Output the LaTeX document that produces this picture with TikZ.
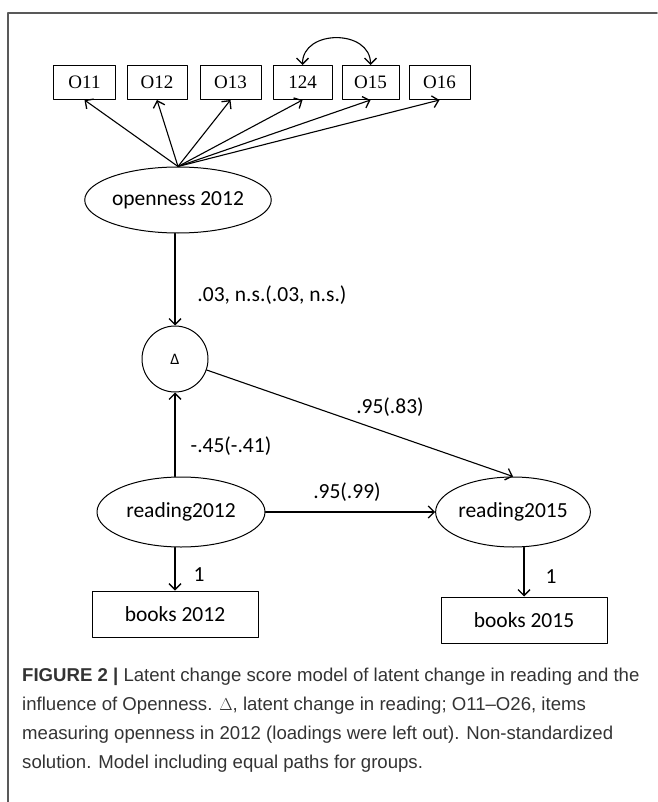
\documentclass[tikz,border=0pt]{standalone}
\usepackage{fontspec}
\setmainfont{Carlito}
\newfontfamily\itemfont{Liberation Serif}
\newfontfamily\capfont{Liberation Sans}
\usetikzlibrary{arrows.meta,shapes.geometric}
\begin{document}
\begin{tikzpicture}[>={Straight Barb[length=6pt,width=12pt,line width=1.3pt]},line join=round,line cap=round,x=1pt,y=-1pt,font=\fontsize{21.5}{24}\selectfont]
\def\W{657}
\def\H{802}
\tikzset{item/.style={draw,line width=1pt,minimum height=34pt,inner sep=0pt,font=\itemfont\fontsize{19}{19}\selectfont},
  latent/.style={draw,ellipse,line width=1pt,inner sep=0pt},
  obs/.style={draw,line width=1pt,minimum width=166pt,minimum height=46pt},
  path/.style={->,line width=1.1pt}}
\useasboundingbox (0,0) rectangle (\W,\H);
\draw[black!65,line width=1.5pt] (\W,13) -- (8,13) -- (8,\H);
\foreach \n/\t/\x/\w in {o11/O11/84.5/62,o12/O12/157/60,o13/O13/230.5/61,i24/124/302.5/59,o15/O15/370.5/57,o16/O16/439.5/61}
  \node[item,minimum width=\w pt] (\n) at (\x,82.5) {\t};
\node[latent,minimum width=168pt,minimum height=66pt] (op) at (178,200) {openness 2012};
\node[draw,circle,line width=1pt,minimum size=66pt,font=\fontsize{16}{16}\selectfont] (dl) at (175,359) {Δ};
\node[latent,minimum width=168pt,minimum height=70pt] (r12) at (181,512) {reading2012};
\node[latent,minimum width=150pt,minimum height=70pt] (r15) at (513,512) {reading2015};
\node[obs] (b12) at (175,614) {books 2012};
\node[obs] (b15) at (524,620) {books 2015};
\foreach \n in {o11,o12,o13,i24,o15,o16}
  \draw[path] (op.north) -- (\n.south);
\draw[path,<->] (i24.north) .. controls +(0,-36) and +(0,-36) .. (o15.north);
\draw[path] (dl |- op.south) -- (dl.north);
\draw[path] (dl |- r12.north) -- (dl.south);
\draw[path] (dl) -- (r15.north);
\draw[path] (r12) -- (r15);
\draw[path] (b12.north |- r12.south) -- (b12.north);
\draw[path] (b15.north |- r15.south) -- (b15.north);
\node (l1) at (272,295) {.03, n.s.(.03, n.s.)};
\node (l2) at (231,446) {-.45(-.41)};
\node (l3) at (390,407) {.95(.83)};
\node (l4) at (347,492) {.95(.99)};
\node (l5) at (199,575) {1};
\node (l6) at (551,577) {1};
\node[anchor=north west,align=left,inner sep=0pt,text=black!80,font=\capfont\fontsize{18.6}{29}\selectfont] (cap) at (22,668)
  {\textbf{FIGURE 2 |} Latent change score model of latent change in reading and the\\
   influence of Openness. $\Delta$, latent change in reading; O11–O26, items\\
   measuring openness in 2012 (loadings were left out). Non-standardized\\
   solution. Model including equal paths for groups.};
\end{tikzpicture}
\end{document}
